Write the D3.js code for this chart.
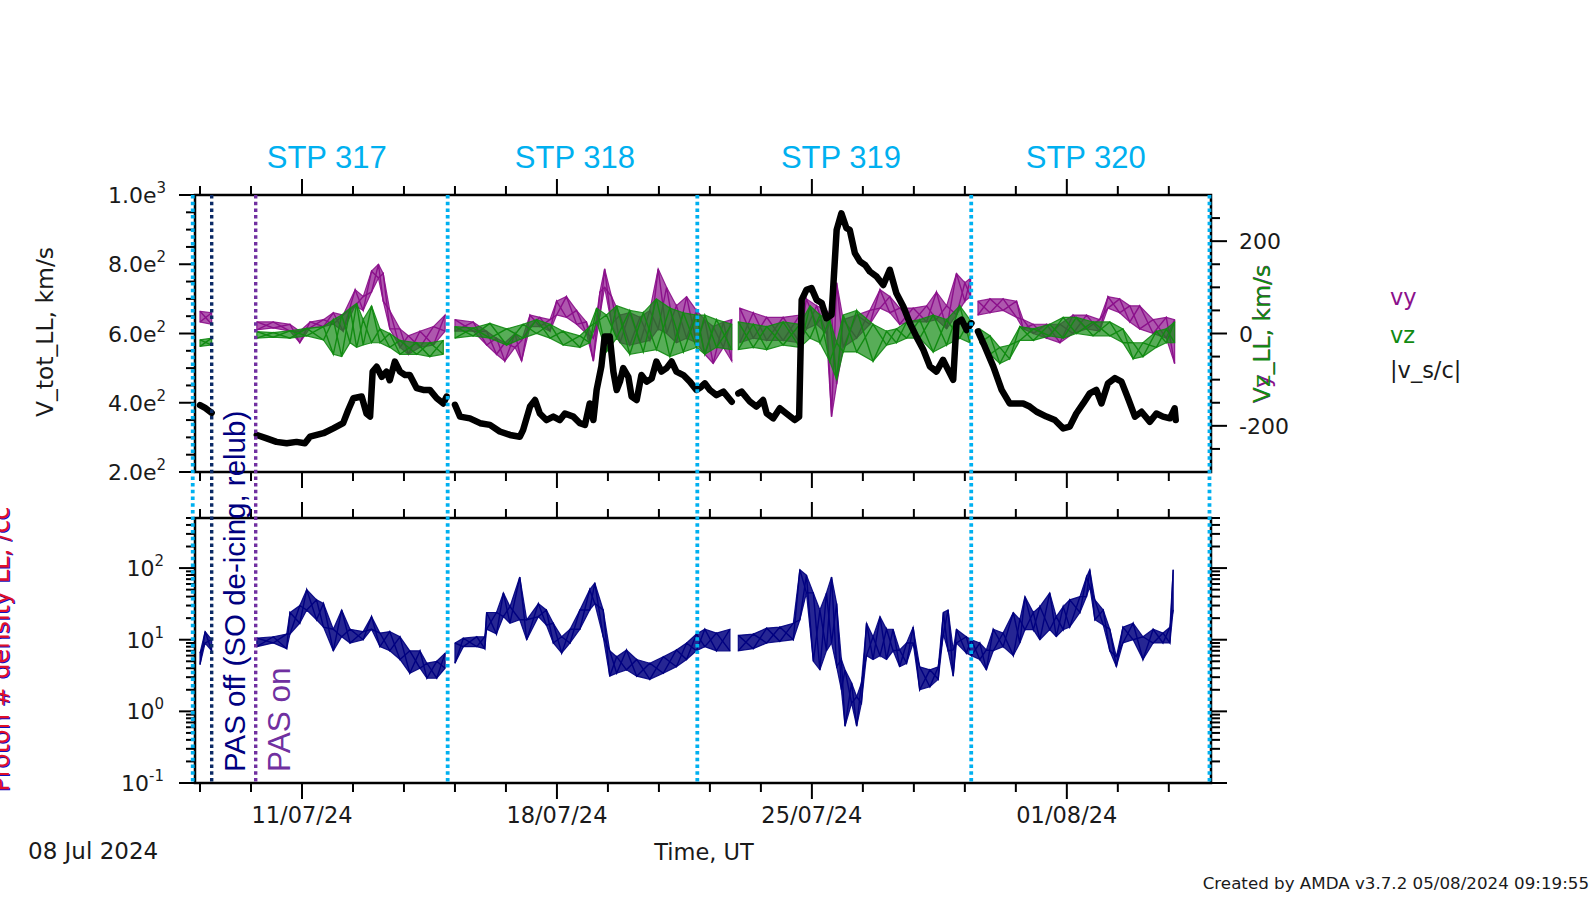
<!DOCTYPE html>
<html><head><meta charset="utf-8">
<script src="https://cdn.jsdelivr.net/npm/d3@7"></script>
<style>body{margin:0;background:#fff}svg{display:block}</style>
</head><body>
<svg id="c" width="1591" height="897"></svg>
<script>
// ---------- DATA (time in days since 2024-07-08 00:00 UT) ----------
const vTotDay = [0.20,0.34,0.52,1.00,
 1.76,2.03,2.30,2.58,2.85,3.08,3.22,3.59,3.86,4.13,4.27,4.41,4.64,4.77,4.87,4.94,5.05,5.19,5.32,5.41,5.55,5.69,5.83,5.96,6.15,6.33,6.51,6.70,6.88,6.97,7.08,
 7.20,7.34,7.61,7.89,8.16,8.43,8.71,8.98,9.07,9.26,9.40,9.53,9.71,9.90,10.08,10.22,10.45,10.63,10.77,10.90,11.00,11.09,11.22,11.31,11.45,11.55,11.64,11.73,11.82,11.96,12.05,12.19,12.32,12.46,12.60,12.73,12.87,13.01,13.15,13.28,13.47,13.65,13.83,13.95,14.06,14.20,14.38,14.57,14.80,14.89,
 14.98,15.07,15.30,15.48,15.66,15.76,15.94,16.12,16.30,16.53,16.65,16.72,16.85,16.99,17.13,17.27,17.40,17.54,17.59,17.68,17.81,17.95,18.04,18.18,18.32,18.46,18.59,18.78,18.96,19.14,19.32,19.51,19.69,19.87,20.06,20.24,20.42,20.60,20.74,20.88,20.97,21.11,21.25,21.38,21.47,
 21.56,21.75,21.98,22.21,22.43,22.62,22.80,22.98,23.17,23.44,23.67,23.90,24.08,24.26,24.45,24.63,24.81,24.95,25.13,25.32,25.50,25.68,25.87,26.05,26.28,26.46,26.64,26.83,26.96,26.99];
const vTotKms = [393,385,371,null,
 307,297,287,283,287,283,302,312,326,341,379,413,418,369,360,490,504,475,490,465,519,490,480,480,442,437,437,413,398,418,null,
 394,360,355,341,336,317,307,302,321,389,408,369,350,360,350,369,360,341,336,398,350,437,505,591,591,490,437,461,500,475,418,408,480,461,470,519,490,500,519,490,480,461,437,445,456,437,422,432,403,null,
 427,432,403,389,408,369,355,384,369,350,360,697,726,731,697,688,644,654,740,899,947,904,899,832,808,798,779,764,740,784,716,678,630,591,553,505,490,524,495,466,630,640,610,630,null,
 606,562,505,437,398,398,398,389,374,360,350,326,331,369,398,427,437,398,456,471,461,413,360,374,345,369,360,355,384,350];

const vyDay = [0.20,0.52,1.00,
 1.76,2.21,2.67,2.94,3.22,3.59,3.86,4.13,4.46,4.68,4.91,5.10,5.23,5.41,5.69,5.92,6.24,6.61,6.93,7.05,
 7.20,7.70,8.07,8.34,8.57,8.85,9.03,9.26,9.53,9.81,9.99,10.26,10.54,10.81,11.00,11.18,11.31,11.50,11.73,12.00,12.28,12.55,12.78,13.01,13.28,13.56,13.83,14.06,14.29,14.57,14.80,14.90,
 15.02,15.39,15.76,16.21,16.67,16.85,17.13,17.40,17.54,17.68,17.86,18.23,18.59,18.87,19.14,19.41,19.78,20.15,20.42,20.70,20.97,21.20,21.36,21.46,
 21.56,21.89,22.25,22.62,22.80,23.08,23.44,23.81,24.17,24.54,24.90,25.13,25.45,25.73,26.00,26.37,26.73,26.96];
const vyLo = [25,20,null,
 8,12,5,-20,12,15,20,5,60,50,90,120,70,10,-30,-45,-30,-25,5,null,
 5,5,-25,-45,-60,-30,-60,15,15,5,40,35,20,0,-60,40,100,20,-20,-25,-20,-15,10,0,-20,-10,-20,-45,-65,-30,-60,null,
 -20,-10,-15,-15,-20,10,20,0,-180,-110,-30,-10,20,55,45,20,25,25,30,10,40,70,80,null,
 40,45,50,35,10,0,-10,-20,0,10,5,55,45,25,10,0,-10,-65];
const vyHi = [48,45,null,
 25,25,20,5,25,30,45,40,95,80,135,150,130,50,10,-5,5,15,40,null,
 30,25,5,-10,-20,0,-15,40,35,30,70,80,50,25,-10,90,140,80,40,45,35,50,140,100,60,80,50,30,15,25,30,null,
 55,45,35,35,40,75,60,50,40,110,30,40,50,95,80,55,55,60,90,60,130,110,120,null,
 70,75,75,70,30,20,20,20,40,40,30,80,75,60,60,30,35,30];

const vzDay = [0.20,0.52,1.00,
 1.76,2.21,2.67,3.13,3.59,3.86,4.09,4.32,4.50,4.68,4.91,5.14,5.41,5.69,6.15,6.51,6.88,7.05,
 7.20,7.70,8.16,8.62,9.07,9.44,9.81,10.17,10.63,10.90,11.09,11.36,11.64,12.00,12.37,12.73,13.10,13.47,13.83,14.06,14.38,14.80,14.90,
 14.98,15.39,15.76,16.21,16.67,16.95,17.22,17.49,17.68,17.86,18.23,18.68,19.05,19.32,19.60,19.96,20.33,20.70,21.06,21.34,21.46,
 21.61,21.89,22.16,22.43,22.71,23.08,23.53,23.90,24.26,24.72,25.18,25.54,25.82,26.09,26.46,26.73,26.96];
const vzLo = [-28,-25,null,
 -10,-8,-10,-5,-14,-45,-50,-20,-30,-25,-20,-20,-30,-45,-45,-50,-45,null,
 -10,-5,-10,-25,-10,0,-10,-25,-30,-20,25,-40,-10,-45,-40,-35,-50,-40,-30,-45,-30,-35,null,
 -35,-30,-35,-25,-30,-10,-20,-60,-100,-40,-40,-60,-25,-20,-10,-10,-40,-25,-10,-20,null,
 -20,-45,-65,-55,-15,-15,-5,-10,0,-5,-5,-20,-55,-50,-30,-20,-20];
const vzHi = [-14,-10,null,
 4,2,6,11,15,30,40,55,65,30,60,10,0,-15,-20,-20,-15,null,
 15,12,22,10,20,30,20,5,-5,15,55,40,60,50,45,75,55,45,40,40,30,20,null,
 25,20,15,25,20,60,40,30,-20,40,50,20,5,10,25,30,40,30,60,30,null,
 10,-5,-30,-25,15,10,20,35,35,25,25,10,-20,-20,5,10,25];

const nDay = [0.20,0.34,0.52,1.00,
 1.76,2.21,2.58,2.67,2.94,3.13,3.40,3.59,3.86,4.09,4.32,4.68,4.91,5.14,5.41,5.69,5.96,6.24,6.43,6.70,6.93,7.05,
 7.20,7.43,7.80,8.02,8.07,8.34,8.53,8.71,8.98,9.17,9.49,9.71,9.90,10.13,10.36,10.63,10.90,11.04,11.27,11.45,11.64,11.91,12.19,12.55,12.92,13.28,13.56,13.83,14.06,14.38,14.75,14.87,
 14.98,15.39,15.76,16.12,16.49,16.67,16.85,17.04,17.22,17.40,17.54,17.68,17.81,17.91,18.09,18.23,18.36,18.50,18.68,18.87,19.05,19.23,19.41,19.60,19.78,19.96,20.24,20.47,20.61,20.74,20.88,20.97,21.24,21.38,21.61,21.79,21.98,22.25,22.53,22.71,22.85,23.08,23.26,23.53,23.71,23.90,24.08,24.36,24.54,24.63,24.77,25.00,25.18,25.36,25.54,25.82,26.09,26.37,26.64,26.83,26.92];
const nLo = [4.5,9,7,null,
 8,9,7.5,12,17,26,19,15,7,11,9,10,14,8,7,5.3,3.4,4,2.9,2.9,4,null,
 4.7,8,8,7.5,14,12,21,17,19,10,21,16,9,6.5,9,14,26,32,11,3.1,3.4,3.8,3.1,2.8,3.4,4.2,5.3,7,8,7,7,null,
 7,7.5,9,9.5,10,19,45,5,3.8,7,9,4.2,2,0.62,1.3,0.62,1.3,6,5.3,6,5.3,7,4.2,4.7,9,2,2.2,2.8,12,7,3.1,9,6.5,6,5.3,3.8,7,8,6,9,13.8,13.8,10,13.8,11,13.8,15,24,40,55,19,16,7,4.2,9,10,5.3,9,9,9,26];
const nHi = [6.5,13,10,null,
 10.5,11,12,24,30,50,36,32,14,26,14,13,21,12.4,13,11,7,7,4.7,5,6.5,null,
 9,10.5,11,11,24,24,45,29,75,19,32,26,17,11,14,26,50,62,26,7,5.8,7.2,5.3,4.7,5.8,7.2,9,12,14,12.4,14,null,
 11.5,12,14.5,15,17,95,80,45,26,45,75,32,5.3,3.8,2.5,1.6,2.5,17,11,21,14,14,7.2,9,15,4.2,3.8,4.2,24,26,7.2,14,11,10,9,7.2,14,12.4,24,19,40,24,29,45,21,29,36,40,75,95,36,26,14,5.8,15,17,11,14,12.4,15,95];

// event markers
const stpBoundaries = ["2024-07-08T00:00Z","2024-07-15T00:00Z","2024-07-21T20:30Z","2024-07-29T09:00Z","2024-08-04T22:00Z"];
const stpNames = ["STP 317","STP 318","STP 319","STP 320"];
const stpLabelAt = ["2024-07-11T16:20Z","2024-07-18T11:50Z","2024-07-25T19:10Z","2024-08-01T12:30Z"];
const pasOffTime = "2024-07-08T12:30Z";
const pasOnTime = "2024-07-09T17:30Z";

// ticks
const xMajorTicks = ["2024-07-11","2024-07-18","2024-07-25","2024-08-01"];
const xMinorStepDays = 1.4;
const vTotMajor = [200,400,600,800,1000];
const vTotMant = ["2.0e","4.0e","6.0e","8.0e","1.0e"];
const vTotExp = ["2","2","2","2","3"];
const vCompMajor = [-200,0,200];
const nMajor = [0.1,1,10,100];
const nExp = ["-1","0","1","2"];

// ---------- LAYOUT ----------
const L=195,R=1211,P1T=195,P1B=472,P2T=518,P2B=783;
const SANS="'DejaVu Sans', sans-serif", ARIAL="'Liberation Sans', Arial, sans-serif";
const TXT="#1a1a1a";
const C_CYAN="#00b0f0", C_NAVYLINE="#0b2a66", C_NAVY="#000080", C_PURP="#7030a0";
const C_VY="#8b108b", C_VZ="#118a11";

const T0 = Date.UTC(2024,6,8);
const dd = d => new Date(T0 + d*864e5);
const svg = d3.select("#c");
const x = d3.scaleUtc().domain([new Date(Date.UTC(2024,6,8,1,30)), new Date(Date.UTC(2024,7,4,23,0))]).range([L,R]);
const yV = d3.scaleLinear().domain([200,1000]).range([P1B,P1T]);
const yC = d3.scaleLinear().domain([-300,300]).range([P1B,P1T]);
const yN = d3.scaleLog().domain([0.1,500]).range([P2B,P2T]);

const defs = svg.append("defs");
defs.append("clipPath").attr("id","cp1").append("rect").attr("x",L).attr("y",P1T).attr("width",R-L).attr("height",P1B-P1T);
defs.append("clipPath").attr("id","cp2").append("rect").attr("x",L).attr("y",P2T).attr("width",R-L).attr("height",P2B-P2T);

function band(g, days, lo, hi, ys, color, op){
  const pts = days.map((d,i)=>({t:dd(d), lo:lo[i], hi:hi[i], i}));
  g.append("path").datum(pts)
    .attr("d", d3.area().defined(p=>p.lo!=null).x(p=>x(p.t)).y0(p=>ys(p.lo)).y1(p=>ys(p.hi)))
    .attr("fill", color).attr("fill-opacity",op).attr("stroke",color).attr("stroke-width",1.2).attr("stroke-opacity",0.9);
  g.append("path").datum(pts)
    .attr("d", d3.line().defined(p=>p.lo!=null).x(p=>x(p.t)).y(p=>ys(p.i%2?p.hi:p.lo)))
    .attr("fill","none").attr("stroke",color).attr("stroke-width",1.4);
  g.append("path").datum(pts)
    .attr("d", d3.line().defined(p=>p.lo!=null).x(p=>x(p.t)).y(p=>ys(p.i%2?p.lo:p.hi)))
    .attr("fill","none").attr("stroke",color).attr("stroke-width",1.4);
}

// panel 1 data
const g1 = svg.append("g").attr("clip-path","url(#cp1)");
band(g1, vyDay, vyLo, vyHi, yC, C_VY, 0.7);
band(g1, vzDay, vzLo, vzHi, yC, C_VZ, 0.7);
g1.append("path").datum(vTotDay.map((d,i)=>({t:dd(d), v:vTotKms[i]})))
  .attr("d", d3.line().defined(p=>p.v!=null).x(p=>x(p.t)).y(p=>yV(p.v)))
  .attr("fill","none").attr("stroke","#000").attr("stroke-width",6.5).attr("stroke-linejoin","round").attr("stroke-linecap","round");

// panel 2 data
const g2 = svg.append("g").attr("clip-path","url(#cp2)");
band(g2, nDay, nLo, nHi, yN, C_NAVY, 0.85);

// ---------- AXES ----------
const ax = svg.append("g").attr("stroke","#000").attr("stroke-width",2);
function tick(x1,y1,x2,y2){ ax.append("line").attr("x1",x1).attr("y1",y1).attr("x2",x2).attr("y2",y2); }
const MAJ=16, MIN=9;
const majorDates = xMajorTicks.map(s=>new Date(s+"T00:00Z"));
const minorDates = [];
for(let k=-5;k<30;k++){ const t=new Date(majorDates[0].getTime()+k*xMinorStepDays*864e5); if(t>=x.domain()[0]&&t<=x.domain()[1]) minorDates.push(t); }
minorDates.forEach(t=>{
  const X=x(t); const isMaj = majorDates.some(m=>Math.abs(m-t)<6e4); const len=isMaj?MAJ:MIN;
  tick(X,P1T,X,P1T-len); tick(X,P1B,X,P1B+len); tick(X,P2T,X,P2T-len); tick(X,P2B,X,P2B+len);
});
d3.range(200,1001,50).forEach(v=>{ const len = v%200===0?MAJ:MIN; tick(L,yV(v),L-len,yV(v)); });
d3.range(-250,251,50).forEach(v=>{ const len = v%200===0?MAJ:MIN; tick(R,yC(v),R+len,yC(v)); });
for(let e=-1;e<=2;e++){ for(let k=1;k<=9;k++){ const v=k*Math.pow(10,e); if(v>500) break; const len=k===1?MAJ:MIN; tick(L,yN(v),L-len,yN(v)); tick(R,yN(v),R+len,yN(v)); } }
[[P1T,P1B],[P2T,P2B]].forEach(([t,b])=>{
  svg.append("rect").attr("x",L).attr("y",t).attr("width",R-L).attr("height",b-t).attr("fill","none").attr("stroke","#000").attr("stroke-width",2.5);
});

// ---------- MARKER LINES ----------
function vline(time,color,w){ const X=x(new Date(time));
  svg.append("line").attr("x1",X).attr("x2",X).attr("y1",P1T).attr("y2",P2B)
   .attr("stroke",color).attr("stroke-width",w).attr("stroke-dasharray","3.5,3.2"); }
stpBoundaries.forEach(t=>vline(t,C_CYAN,3.8));
vline(pasOffTime,C_NAVYLINE,3.4);
vline(pasOnTime,C_PURP,3.4);

// ---------- TEXT ----------
stpNames.forEach((s,i)=>svg.append("text").attr("x",x(new Date(stpLabelAt[i]))).attr("y",168)
  .attr("text-anchor","middle").attr("font-family",ARIAL).attr("font-size",31).attr("fill",C_CYAN).text(s));

function supLabel(xp, yp, base, exp, anchor){
  const t = svg.append("text").attr("x",xp).attr("y",yp+8).attr("text-anchor",anchor)
    .attr("font-family",SANS).attr("font-size",22).attr("fill",TXT);
  t.append("tspan").text(base);
  t.append("tspan").attr("dy",-10).attr("font-size",15).text(exp);
}
vTotMajor.forEach((v,i)=>supLabel(166, yV(v), vTotMant[i], vTotExp[i], "end"));
nMajor.forEach((v,i)=>supLabel(164, yN(v), "10", nExp[i], "end"));
vCompMajor.forEach(v=>svg.append("text").attr("x",1239).attr("y",yC(v)+8).attr("font-family",SANS).attr("font-size",22).attr("fill",TXT).text(v));

const fmt = d3.utcFormat("%d/%m/%y");
majorDates.forEach(t=>svg.append("text").attr("x",x(t)).attr("y",823).attr("text-anchor","middle")
  .attr("font-family",SANS).attr("font-size",22.5).attr("fill",TXT).text(fmt(t)));

svg.append("text").attr("x",28).attr("y",859).attr("font-family",SANS).attr("font-size",23).attr("fill",TXT).text("08 Jul 2024");
svg.append("text").attr("x",704).attr("y",860).attr("text-anchor","middle").attr("font-family",SANS).attr("font-size",22.5).attr("fill",TXT).text("Time, UT");
svg.append("text").attr("x",1589).attr("y",889).attr("text-anchor","end").attr("font-family",SANS).attr("font-size",16.7).attr("fill",TXT).text("Created by AMDA v3.7.2 05/08/2024 09:19:55");

function vtext(xp, yp, s, color, size, anchor, fam){
  svg.append("text").attr("transform",`translate(${xp},${yp}) rotate(-90)`).attr("text-anchor",anchor)
   .attr("font-family",fam||SANS).attr("font-size",size).attr("fill",color).text(s);
}
vtext(53, 332, "V_tot_LL, km/s", TXT, 23.5, "middle");
vtext(1270, 334, "Vy_LL, km/s", C_VY, 23.5, "middle");
vtext(1270, 334, "Vz_LL, km/s", C_VZ, 23.5, "middle");
// y label of the density panel: partly outside the picture, as in the reference
vtext(10, 650, "Proton # density LL, /cc", "#1010c0", 24, "middle");
vtext(9, 649, "Proton # density LL, /cc", "#e0102a", 24, "middle");

vtext(245, 772, "PAS off (SO de-icing, relub)", C_NAVY, 29.5, "start", ARIAL);
vtext(290, 772, "PAS on", C_PURP, 31.5, "start", ARIAL);

[["vy",C_VY,305],["vz",C_VZ,343],["|v_s/c|",TXT,378]].forEach(([s,c,yy])=>
  svg.append("text").attr("x",1390).attr("y",yy).attr("font-family",SANS).attr("font-size",22.5).attr("fill",c).text(s));
</script>
</body></html>
